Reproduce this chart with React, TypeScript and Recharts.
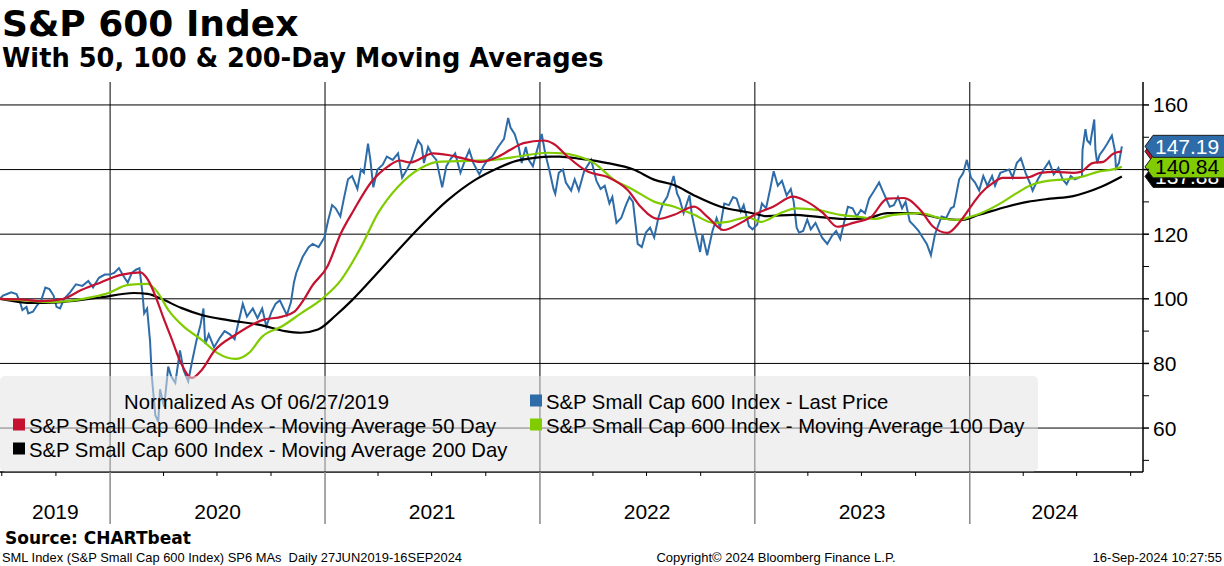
import React from 'react';
import { LineChart, Line, XAxis, YAxis, CartesianGrid, ReferenceDot } from 'recharts';

// S&P Small Cap 600, normalized to 100 on 06/27/2019
const lastPrice: [string, number][] = [
    ['2019-06-28', 100], ['2019-07-03', 101], ['2019-07-10', 101.5], ['2019-07-17', 102], ['2019-07-26', 101.5],
    ['2019-08-01', 99], ['2019-08-05', 96.5], ['2019-08-12', 97.5], ['2019-08-15', 95.5], ['2019-08-23', 96],
    ['2019-08-30', 98], ['2019-09-06', 99.5], ['2019-09-13', 103.5], ['2019-09-20', 103], ['2019-09-27', 101],
    ['2019-10-02', 97.5], ['2019-10-08', 97], ['2019-10-15', 100], ['2019-10-25', 102], ['2019-11-04', 104.5],
    ['2019-11-15', 104], ['2019-11-25', 105.5], ['2019-12-03', 103.5], ['2019-12-13', 106.5], ['2019-12-23', 107.5],
    ['2019-12-31', 107.5], ['2020-01-08', 108], ['2020-01-16', 109.5], ['2020-01-24', 107], ['2020-01-31', 105],
    ['2020-02-07', 108], ['2020-02-14', 109], ['2020-02-20', 109.5], ['2020-02-25', 102], ['2020-02-28', 95.5],
    ['2020-03-04', 97], ['2020-03-09', 87], ['2020-03-12', 76], ['2020-03-16', 68], ['2020-03-18', 64],
    ['2020-03-23', 62], ['2020-03-26', 72], ['2020-04-02', 66.5], ['2020-04-09', 79], ['2020-04-14', 76],
    ['2020-04-21', 74], ['2020-04-29', 84], ['2020-05-05', 78], ['2020-05-13', 74.5], ['2020-05-20', 81],
    ['2020-05-27', 87], ['2020-06-03', 92], ['2020-06-08', 97], ['2020-06-11', 86], ['2020-06-17', 89],
    ['2020-06-26', 85], ['2020-07-06', 88], ['2020-07-14', 90], ['2020-07-23', 89], ['2020-07-31', 87.5],
    ['2020-08-07', 93], ['2020-08-14', 98.5], ['2020-08-21', 94.5], ['2020-08-31', 97], ['2020-09-08', 94],
    ['2020-09-16', 97], ['2020-09-23', 91.5], ['2020-10-02', 96], ['2020-10-09', 98.5], ['2020-10-16', 99.5],
    ['2020-10-28', 95], ['2020-11-04', 99], ['2020-11-09', 105], ['2020-11-13', 108], ['2020-11-24', 113],
    ['2020-12-04', 116], ['2020-12-11', 117], ['2020-12-21', 116], ['2020-12-31', 119], ['2021-01-06', 124],
    ['2021-01-13', 129], ['2021-01-19', 128], ['2021-01-27', 125.5], ['2021-02-02', 131], ['2021-02-09', 137],
    ['2021-02-16', 138], ['2021-02-25', 134], ['2021-03-03', 140], ['2021-03-08', 139], ['2021-03-15', 148],
    ['2021-03-19', 143], ['2021-03-24', 134.5], ['2021-03-31', 140], ['2021-04-09', 141.5], ['2021-04-16', 144],
    ['2021-04-26', 143], ['2021-05-05', 145], ['2021-05-12', 137.5], ['2021-05-20', 140], ['2021-05-28', 143],
    ['2021-06-08', 149], ['2021-06-14', 147.5], ['2021-06-18', 142], ['2021-06-25', 147], ['2021-07-02', 144.5],
    ['2021-07-09', 143], ['2021-07-19', 134.5], ['2021-07-26', 141], ['2021-08-03', 143.5], ['2021-08-10', 145],
    ['2021-08-19', 139], ['2021-08-27', 143], ['2021-09-03', 146], ['2021-09-10', 142], ['2021-09-20', 138.5],
    ['2021-09-27', 141], ['2021-10-04', 143], ['2021-10-12', 144], ['2021-10-22', 147], ['2021-11-01', 149.5],
    ['2021-11-08', 156], ['2021-11-12', 153], ['2021-11-19', 151], ['2021-11-26', 147], ['2021-12-01', 142],
    ['2021-12-08', 147], ['2021-12-13', 143], ['2021-12-20', 141], ['2021-12-27', 146], ['2022-01-04', 151],
    ['2022-01-10', 145], ['2022-01-18', 139], ['2022-01-24', 134], ['2022-01-27', 132.5], ['2022-02-02', 139],
    ['2022-02-09', 140], ['2022-02-14', 136], ['2022-02-23', 133.5], ['2022-03-01', 137], ['2022-03-08', 133.5],
    ['2022-03-17', 139.5], ['2022-03-29', 143], ['2022-04-07', 136.5], ['2022-04-14', 134], ['2022-04-21', 135],
    ['2022-04-29', 129.5], ['2022-05-04', 131.5], ['2022-05-11', 123.5], ['2022-05-19', 125], ['2022-05-27', 129],
    ['2022-06-02', 131.5], ['2022-06-08', 130], ['2022-06-13', 122], ['2022-06-16', 117], ['2022-06-23', 116],
    ['2022-06-30', 120.5], ['2022-07-07', 122], ['2022-07-14', 119], ['2022-07-21', 125], ['2022-07-29', 129.5],
    ['2022-08-05', 131.5], ['2022-08-16', 138], ['2022-08-22', 132.5], ['2022-08-26', 131], ['2022-09-02', 126.5],
    ['2022-09-12', 132], ['2022-09-16', 126], ['2022-09-23', 120], ['2022-09-30', 114.5], ['2022-10-04', 120],
    ['2022-10-12', 113.5], ['2022-10-21', 121], ['2022-10-28', 125], ['2022-11-03', 122], ['2022-11-10', 129.5],
    ['2022-11-18', 129], ['2022-11-25', 131.5], ['2022-12-01', 131], ['2022-12-08', 127], ['2022-12-13', 129],
    ['2022-12-22', 122.5], ['2022-12-28', 121.5], ['2023-01-05', 123], ['2023-01-13', 129.5], ['2023-01-20', 128],
    ['2023-01-27', 134], ['2023-02-02', 139.5], ['2023-02-09', 135], ['2023-02-16', 136.5], ['2023-02-24', 132],
    ['2023-03-03', 134], ['2023-03-08', 130], ['2023-03-13', 122], ['2023-03-17', 120.5], ['2023-03-24', 121],
    ['2023-03-31', 124.5], ['2023-04-06', 121.5], ['2023-04-14', 123.5], ['2023-04-25', 119], ['2023-05-04', 117],
    ['2023-05-12', 119.5], ['2023-05-19', 121], ['2023-05-26', 118.5], ['2023-06-02', 124], ['2023-06-08', 128.5],
    ['2023-06-16', 128], ['2023-06-23', 125.5], ['2023-06-30', 127.5], ['2023-07-07', 126.5], ['2023-07-14', 131],
    ['2023-07-21', 133], ['2023-07-31', 136], ['2023-08-07', 133], ['2023-08-18', 128.5], ['2023-08-25', 129],
    ['2023-09-01', 131.5], ['2023-09-08', 128], ['2023-09-14', 130], ['2023-09-21', 124], ['2023-09-29', 122.5],
    ['2023-10-06', 121], ['2023-10-13', 119], ['2023-10-20', 117], ['2023-10-27', 113.5], ['2023-11-03', 120],
    ['2023-11-14', 125.5], ['2023-11-22', 125], ['2023-11-30', 128], ['2023-12-05', 128.5], ['2023-12-14', 137],
    ['2023-12-21', 139], ['2023-12-27', 143], ['2024-01-03', 137.5], ['2024-01-10', 136], ['2024-01-17', 133.5],
    ['2024-01-24', 138], ['2024-01-31', 135], ['2024-02-08', 138], ['2024-02-13', 135], ['2024-02-22', 139],
    ['2024-03-01', 139.5], ['2024-03-08', 140], ['2024-03-14', 137.5], ['2024-03-21', 142], ['2024-03-28', 143.5],
    ['2024-04-05', 139], ['2024-04-12', 136], ['2024-04-17', 133.5], ['2024-04-26', 137], ['2024-05-06', 140],
    ['2024-05-15', 142.5], ['2024-05-23', 138.5], ['2024-05-31', 140.5], ['2024-06-07', 137], ['2024-06-14', 135.5],
    ['2024-06-21', 138], ['2024-06-28', 137], ['2024-07-05', 137.5], ['2024-07-10', 138], ['2024-07-11', 146],
    ['2024-07-16', 152.5], ['2024-07-19', 149], ['2024-07-24', 148], ['2024-07-31', 155.5], ['2024-08-02', 146],
    ['2024-08-05', 142], ['2024-08-09', 144.5], ['2024-08-15', 146], ['2024-08-22', 148], ['2024-08-30', 150.5],
    ['2024-09-04', 146], ['2024-09-06', 140.5], ['2024-09-11', 142], ['2024-09-16', 147.19],
];

const ma50: [string, number][] = [
    ['2019-06-28', 100], ['2019-08-01', 99.8], ['2019-09-05', 99.3], ['2019-10-10', 99.8], ['2019-11-13', 102.7],
    ['2019-12-15', 105], ['2020-01-19', 107.4], ['2020-02-22', 108.2], ['2020-03-05', 106], ['2020-03-20', 100],
    ['2020-04-01', 94], ['2020-04-14', 88], ['2020-05-01', 80], ['2020-05-19', 75.5], ['2020-06-05', 78],
    ['2020-06-27', 84], ['2020-08-01', 88.8], ['2020-09-16', 93.4], ['2020-10-20', 94.5], ['2020-11-10', 96],
    ['2020-11-25', 99.5], ['2020-12-10', 104], ['2021-01-05', 110], ['2021-01-28', 120.3], ['2021-02-19', 127.5],
    ['2021-03-20', 136], ['2021-04-18', 141], ['2021-05-08', 142.8], ['2021-05-25', 142.2], ['2021-07-04', 145],
    ['2021-07-29', 144.5], ['2021-08-25', 143.4], ['2021-09-22', 142.4], ['2021-10-22', 144], ['2021-11-17', 146.7],
    ['2021-12-04', 148.2], ['2022-01-07', 149], ['2022-01-24', 148], ['2022-02-17', 144], ['2022-03-24', 139.3],
    ['2022-04-26', 137.7], ['2022-05-30', 133.7], ['2022-06-21', 128.5], ['2022-07-21', 124.7], ['2022-08-17', 126],
    ['2022-09-20', 128.5], ['2022-10-13', 125.3], ['2022-11-09', 121.3], ['2022-12-08', 123.5], ['2023-01-05', 126.5],
    ['2023-02-01', 128.5], ['2023-03-07', 131.6], ['2023-03-31', 130], ['2023-04-27', 126.5], ['2023-05-21', 122.3],
    ['2023-06-17', 123.5], ['2023-07-17', 125.3], ['2023-08-14', 131], ['2023-09-11', 131.2], ['2023-10-09', 127.5],
    ['2023-10-31', 122.3], ['2023-11-24', 120.4], ['2023-12-16', 124], ['2024-01-07', 129.6], ['2024-01-20', 132.7],
    ['2024-02-09', 135.8], ['2024-02-26', 137.4], ['2024-03-27', 137.4], ['2024-04-12', 137.7], ['2024-04-30', 139],
    ['2024-05-26', 139.3], ['2024-06-25', 139], ['2024-07-08', 139.3], ['2024-07-28', 142], ['2024-08-15', 142.4],
    ['2024-09-02', 145], ['2024-09-16', 145.62],
];

const ma100: [string, number][] = [
    ['2019-06-28', 100], ['2019-08-10', 99.5], ['2019-09-22', 99], ['2019-11-16', 100], ['2019-12-28', 101.7],
    ['2020-02-01', 104.3], ['2020-03-05', 104.6], ['2020-03-23', 101.7], ['2020-04-09', 96.6], ['2020-05-06', 91.3],
    ['2020-06-05', 87.3], ['2020-07-02', 83.2], ['2020-08-01', 81.4], ['2020-08-24', 83.2], ['2020-09-16', 88.3],
    ['2020-10-20', 91.5], ['2020-11-21', 95.5], ['2020-12-27', 100], ['2021-01-28', 105.8], ['2021-03-03', 116],
    ['2021-04-01', 126.5], ['2021-05-05', 134.7], ['2021-06-13', 140.5], ['2021-07-12', 142.4], ['2021-09-01', 142.7],
    ['2021-10-15', 143], ['2021-11-30', 144.2], ['2022-01-14', 145.2], ['2022-02-10', 145], ['2022-03-05', 144.2],
    ['2022-04-03', 142], ['2022-05-07', 136.8], ['2022-06-09', 133.7], ['2022-07-15', 130], ['2022-08-17', 128.5],
    ['2022-09-20', 126], ['2022-10-23', 123.5], ['2022-11-16', 123.8], ['2022-12-20', 125.3], ['2023-01-11', 123.8],
    ['2023-02-13', 126.5], ['2023-03-13', 128], ['2023-04-17', 127.5], ['2023-05-26', 126], ['2023-06-30', 125.3],
    ['2023-07-22', 124.7], ['2023-08-24', 126], ['2023-10-09', 126.5], ['2023-11-11', 125], ['2023-12-11', 124.4],
    ['2024-01-01', 125.3], ['2024-01-20', 126.5], ['2024-02-23', 129.6], ['2024-03-21', 132.7], ['2024-04-12', 135],
    ['2024-05-12', 136.5], ['2024-06-15', 137], ['2024-07-08', 137.7], ['2024-08-06', 139.3], ['2024-08-30', 140],
    ['2024-09-16', 140.84],
];

const ma200: [string, number][] = [
    ['2019-06-28', 100], ['2019-08-24', 98.7], ['2019-10-10', 99], ['2019-12-15', 100.4], ['2020-02-10', 101.8],
    ['2020-03-05', 101.5], ['2020-03-28', 100], ['2020-05-01', 97.2], ['2020-06-05', 95], ['2020-07-20', 93.4],
    ['2020-09-16', 91.8], ['2020-10-25', 90], ['2020-11-21', 89.5], ['2020-12-20', 90.5], ['2021-01-20', 95],
    ['2021-02-16', 99.6], ['2021-04-05', 109], ['2021-06-01', 120.3], ['2021-07-29', 130.6], ['2021-09-13', 136.8],
    ['2021-10-22', 140.5], ['2021-11-17', 142.4], ['2021-12-22', 143.6], ['2022-01-20', 144], ['2022-02-03', 144],
    ['2022-03-12', 143.3], ['2022-04-26', 142], ['2022-06-09', 140], ['2022-07-15', 136.8], ['2022-08-17', 135.2],
    ['2022-09-20', 132], ['2022-11-04', 128.5], ['2022-12-20', 126.8], ['2023-01-22', 125.6], ['2023-03-07', 126],
    ['2023-04-22', 125.3], ['2023-06-08', 124.7], ['2023-07-12', 125], ['2023-08-14', 126.5], ['2023-09-28', 126.5],
    ['2023-11-11', 125], ['2023-12-16', 124.4], ['2024-01-17', 126], ['2024-03-04', 128.5], ['2024-04-08', 130],
    ['2024-05-17', 131], ['2024-06-25', 131.8], ['2024-07-18', 133], ['2024-08-12', 134.7], ['2024-09-16', 137.88],
];

const yearStarts = ['2020-01-01', '2021-01-01', '2022-01-01', '2023-01-01', '2024-01-01'];
const quarterStarts = [
    '2019-07-01', '2019-10-01',
    '2020-01-01', '2020-04-01', '2020-07-01', '2020-10-01',
    '2021-01-01', '2021-04-01', '2021-07-01', '2021-10-01',
    '2022-01-01', '2022-04-01', '2022-07-01', '2022-10-01',
    '2023-01-01', '2023-04-01', '2023-07-01', '2023-10-01',
    '2024-01-01', '2024-04-01', '2024-07-01', '2024-10-01',
];
const yearNames = ['2019', '2020', '2021', '2022', '2023', '2024'];
const yearLabelAt = ['2019-09-30', '2020-07-02', '2021-07-02', '2022-07-02', '2023-07-02', '2024-05-25'];
const majorY = [60, 80, 100, 120, 140, 160];
// 140 sits under the last-value tags in the original, so it gets no label
const labelledY = [60, 80, 100, 120, 160];
const allY = [50, 60, 70, 80, 90, 100, 110, 120, 130, 140, 150, 160];

const W = 1224;
const H = 566;
const PLOT_RIGHT = 1143;
const PLOT_BOTTOM = 472;
const FONT = '"Liberation Sans", Arial, sans-serif';
const BOLD = '"DejaVu Sans", Verdana, sans-serif';

const BLUE = '#2d6ca8';
const RED = '#c41230';
const GREEN = '#80cc00';

// date string -> decimal year
const toYear = (d: string) => {
    const [y, m, dd] = d.split('-').map(Number);
    const start = Date.UTC(y, 0, 1);
    const end = Date.UTC(y + 1, 0, 1);
    return y + (Date.UTC(y, m - 1, dd) - start) / (end - start);
};

const toPoints = (rows: [string, number][]) => rows.map(([d, v]) => ({ t: toYear(d), v }));

const priceData = toPoints(lastPrice);
const ma50Data = toPoints(ma50);
const ma100Data = toPoints(ma100);
const ma200Data = toPoints(ma200);

const quarterTs = quarterStarts.map(toYear);
const yearTs = yearStarts.map(toYear);
const labelTs = yearLabelAt.map(toYear);
const xTicks = [...quarterTs, ...labelTs].sort((a, b) => a - b);
const lastT = toYear('2024-09-16');

const XTick = (props: any) => {
    const { x, payload } = props;
    const li = labelTs.indexOf(payload.value);
    if (li >= 0) {
        return (
            <text x={x} y={519} textAnchor="middle" fontSize={21} fontFamily={FONT} fill="#000">
                {yearNames[li]}
            </text>
        );
    }
    if (yearTs.includes(payload.value)) {
        return <line x1={x} x2={x} y1={PLOT_BOTTOM} y2={524} stroke="#8a8a8a" strokeWidth={1.5} />;
    }
    return <line x1={x} x2={x} y1={PLOT_BOTTOM} y2={PLOT_BOTTOM + 4} stroke="#000" />;
};

const YTick = (props: any) => {
    const { y, payload } = props;
    const v = payload.value;
    return (
        <g>
            <line x1={PLOT_RIGHT} x2={PLOT_RIGHT + 6} y1={y} y2={y} stroke="#000" strokeWidth={majorY.includes(v) ? 1.5 : 1} />
            {labelledY.includes(v) && (
                <text x={PLOT_RIGHT + 10} y={y + 7.5} fontSize={21} fontFamily={FONT} fill="#000">
                    {v}
                </text>
            )}
        </g>
    );
};

const tag = (fill: string, textColor: string, text: string) => (props: any) => {
    const cy = props.cy;
    const x0 = PLOT_RIGHT + 2;
    const h = 11;
    return (
        <g>
            <polygon
                points={`${x0},${cy} ${x0 + 8},${cy - h} ${W + 4},${cy - h} ${W + 4},${cy + h} ${x0 + 8},${cy + h}`}
                fill={fill}
                stroke="#1c1c1c"
                strokeWidth={1}
            />
            <text x={x0 + 10} y={cy + 7.5} fontSize={21} fontFamily={FONT} fill={textColor}>
                {text}
            </text>
        </g>
    );
};

const legendRows = [
    { label: 'S&P Small Cap 600 Index - Last Price', color: BLUE, x: 530, y: 409 },
    { label: 'S&P Small Cap 600 Index - Moving Average 50 Day', color: RED, x: 13, y: 433 },
    { label: 'S&P Small Cap 600 Index - Moving Average 100 Day', color: GREEN, x: 530, y: 433 },
    { label: 'S&P Small Cap 600 Index - Moving Average 200 Day', color: '#000', x: 13, y: 457 },
];

const App: React.FC = () => {
    return (
        <div style={{ position: 'absolute', left: 0, top: 0, width: W, height: H, background: '#fff', overflow: 'hidden' }}>
            <LineChart width={W} height={H} margin={{ top: 82, right: 0, bottom: 44, left: 0 }}>
                <CartesianGrid
                    stroke="#000"
                    strokeWidth={1}
                    horizontalValues={majorY}
                    verticalValues={yearTs}
                />
                <XAxis
                    type="number"
                    dataKey="t"
                    domain={[toYear('2019-06-28'), toYear('2024-10-22')]}
                    allowDataOverflow
                    ticks={xTicks}
                    interval={0}
                    tick={<XTick />}
                    tickLine={false}
                    axisLine={{ stroke: '#000', strokeWidth: 1.5 }}
                    height={50}
                />
                <YAxis
                    orientation="right"
                    type="number"
                    domain={[46.4, 167.1]}
                    allowDataOverflow
                    ticks={allY}
                    interval={0}
                    tick={<YTick />}
                    tickLine={false}
                    axisLine={{ stroke: '#000', strokeWidth: 1.5 }}
                    width={81}
                />
                <Line data={priceData} dataKey="v" type="linear" stroke={BLUE} strokeWidth={2} dot={false} isAnimationActive={false} />
                <Line data={ma200Data} dataKey="v" type="monotone" stroke="#000" strokeWidth={2.2} dot={false} isAnimationActive={false} />
                <Line data={ma100Data} dataKey="v" type="monotone" stroke={GREEN} strokeWidth={2.2} dot={false} isAnimationActive={false} />
                <Line data={ma50Data} dataKey="v" type="monotone" stroke={RED} strokeWidth={2.2} dot={false} isAnimationActive={false} />
                <ReferenceDot x={lastT} y={137.88} ifOverflow="visible" shape={tag('#000', '#fff', '137.88')} />
                <ReferenceDot x={lastT} y={145.62} ifOverflow="visible" shape={tag(RED, '#fff', '145.62')} />
                <ReferenceDot x={lastT} y={140.84} ifOverflow="visible" shape={tag(GREEN, '#000', '140.84')} />
                <ReferenceDot x={lastT} y={147.19} ifOverflow="visible" shape={tag(BLUE, '#fff', '147.19')} />
            </LineChart>

            <svg width={W} height={H} style={{ position: 'absolute', left: 0, top: 0, pointerEvents: 'none' }}>
                <text x={2} y={36} fontSize={36} fontWeight="bold" fontFamily={BOLD} fill="#000">S&amp;P 600 Index</text>
                <text x={2} y={67} fontSize={25.7} fontWeight="bold" fontFamily={BOLD} fill="#000">
                    With 50, 100 &amp; 200-Day Moving Averages
                </text>

                <rect x={0} y={376} width={1038} height={95.5} rx={5} fill="rgb(228,228,228)" fillOpacity={0.55} />
                <text x={124} y={409} fontSize={20.3} fontFamily={FONT} fill="#000">Normalized As Of 06/27/2019</text>
                {legendRows.map((r) => (
                    <g key={r.label}>
                        <rect x={r.x} y={r.y - 14.5} width={12} height={12} fill={r.color} />
                        <text x={r.x + 16} y={r.y} fontSize={20.3} fontFamily={FONT} fill="#000">{r.label}</text>
                    </g>
                ))}

                <text x={5} y={544} fontSize={17} fontWeight="bold" fontFamily={BOLD} fill="#000">Source: CHARTbeat</text>
                <text x={2} y={562} fontSize={12.9} fontFamily={FONT} fill="#000" style={{ whiteSpace: 'pre' }}>
                    {'SML Index (S&P Small Cap 600 Index) SP6 MAs  Daily 27JUN2019-16SEP2024'}
                </text>
                <text x={776} y={562} fontSize={13} textAnchor="middle" fontFamily={FONT} fill="#000">
                    Copyright© 2024 Bloomberg Finance L.P.
                </text>
                <text x={1222} y={562} fontSize={13} textAnchor="end" fontFamily={FONT} fill="#000">
                    16-Sep-2024 10:27:55
                </text>
            </svg>
        </div>
    );
};

export default App;
